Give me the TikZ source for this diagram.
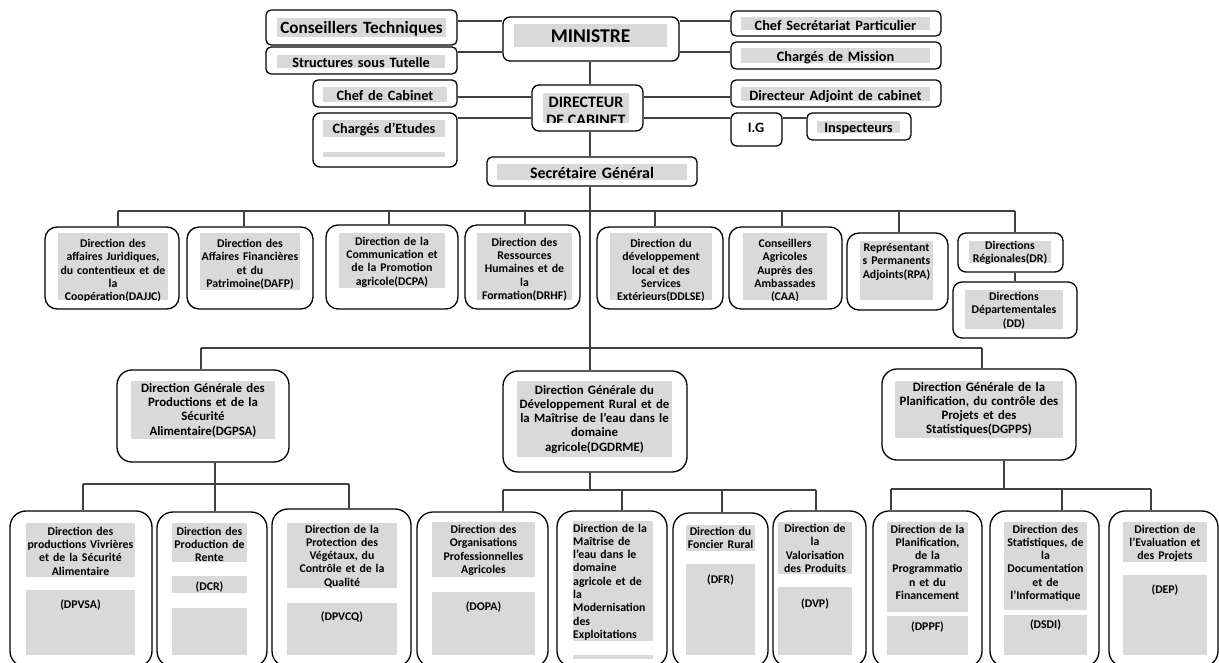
\documentclass[tikz,border=0pt]{standalone}
\usepackage{fontspec}
\setmainfont{Carlito}
\definecolor{hlc}{HTML}{D9D9D9}
\definecolor{lnc}{HTML}{404040}
\tikzset{
  obox/.style={draw=black, line width=1.3pt, rounded corners=#1, inner sep=0pt, fill=white},
  obox/.default=5pt,
  conn/.style={draw=lnc, line width=1.1pt},
}
\newcommand\fRow{\fontsize{11.8}{13.3}\selectfont\bfseries}
\newcommand\fDG{\fontsize{12.8}{14.3}\selectfont\bfseries}
\newcommand\fTop{\fontsize{14.3}{16}\selectfont\bfseries}
\newcommand\fCons{\fontsize{17.2}{20}\selectfont\bfseries}
\newcommand\fMin{\fontsize{19.5}{22}\selectfont\bfseries}
\newcommand\fSGen{\fontsize{16}{18}\selectfont\bfseries}
\newcommand\fDirc{\fontsize{16}{17}\selectfont\bfseries}
% box: name, x1, y1, x2, y2, radius
\newcommand\Bx[6]{%
  \pgfmathsetmacro\bxw{#4-#2}\pgfmathsetmacro\bxh{#5-#3}%
  \node[obox=#6pt, minimum width=\bxw pt, minimum height=\bxh pt] (#1) at ({(#2+#4)/2},{(#3+#5)/2}) {};}
% grey highlighted text block: name, x1, y1, x2, y2, font, first baseline, text
\newcommand\Tx[8]{%
  \fill[hlc] (#2,#3) rectangle (#4,#5);
  \pgfmathsetmacro\txw{#4-#2+40}%
  \begin{scope}
    \clip (#2-25,#3-6) rectangle (#4+25,#5+0.6);
    \node[inner sep=0pt, align=center, text width=\txw pt, font=#6, anchor=base] (#1) at ({(#2+#4)/2},#7) {#8};
  \end{scope}}
\newcommand\TxL[8]{%
  \fill[hlc] (#2,#3) rectangle (#4,#5);
  \pgfmathsetmacro\txw{#4-#2+40}%
  \begin{scope}
    \clip (#2-25,#3-6) rectangle (#4+25,#5+0.6);
    \node[inner sep=0pt, align=left, text width=\txw pt, font=#6, anchor=base west] (#1) at (#2,#7) {#8};
  \end{scope}}
\begin{document}
\begin{tikzpicture}[x=1pt,y=-1pt]
\useasboundingbox (0,0) rectangle (1219,663);
\clip (0,0) rectangle (1219,663);
\fill[white] (0,0) rectangle (1219,663);
% ---------- top ----------
\Bx{CT}{266}{10}{457}{45}{5}
\Tx{tCT}{277}{18}{446}{37}{\fCons}{33.5}{Conseillers Techniques}
\Bx{ST}{266}{47}{457}{74}{5}
\Tx{tST}{277}{55}{445}{68}{\fTop}{67.3}{Structures sous Tutelle}
\Bx{MIN}{503}{17}{679}{61}{7}
\Tx{tMIN}{514}{24}{667}{47}{\fMin}{43}{MINISTRE}
\Bx{CSP}{731}{11}{941}{36}{5}
\Tx{tCSP}{741}{17}{930}{30}{\fTop}{31}{Chef Secrétariat Particulier}
\Bx{CM}{731}{42}{941}{69}{5}
\Tx{tCM}{741}{48}{930}{63}{\fTop}{62}{Chargés de Mission}
\Bx{CC}{313}{80}{457}{107}{5}
\Tx{tCC}{323}{87}{447}{102}{\fTop}{100.6}{Chef de Cabinet}
\Bx{CE}{313}{113}{457}{167}{7}
\Tx{tCE}{323}{120}{445}{137}{\fTop}{134}{Chargés d’Etudes}
\fill[hlc] (323,152) rectangle (445,157);
\Bx{DIR}{532}{85}{643}{131}{7}
\fill[hlc] (543,93) rectangle (629,123);
\begin{scope}
  \clip (530,85) rectangle (645,123);
  \node[font=\fDirc, anchor=base, inner sep=0pt] (tDIR1) at (586,107.3) {DIRECTEUR};
  \node[font=\fDirc, anchor=base, inner sep=0pt] (tDIR2) at (586,126) {DE CABINET};
\end{scope}
\Bx{DAC}{731}{80}{941}{107}{5}
\Tx{tDAC}{741}{87}{930}{101}{\fTop}{100.6}{Directeur Adjoint de cabinet}
\Bx{IG}{731}{113}{782}{146}{6}
\node[font=\fTop, anchor=base, inner sep=0pt] (tIG) at (756,132.6) {I.G};
\Bx{INS}{807}{113}{911}{140}{5}
\Tx{tINS}{817}{121}{900}{133}{\fTop}{132.5}{Inspecteurs}
\Bx{SG}{487}{157}{697}{186}{5}
\Tx{tSG}{497}{164}{687}{180}{\fSGen}{179}{Secrétaire Général}
% ---------- row 1 ----------
\Bx{DAJJC}{45}{227}{179}{309}{12}
\Tx{tDAJJC}{58}{233}{168}{300}{\fRow}{247.6}{Direction des\\affaires Juridiques,\\du contentieux et de\\la\\Coopération(DAJJC)}
\Bx{DAFP}{187}{227}{313}{309}{12}
\Tx{tDAFP}{200}{233}{300}{290}{\fRow}{247.6}{Direction des\\Affaires Financières\\et du\\Patrimoine(DAFP)}
\Bx{DCPA}{326}{225}{458}{309}{12}
\Tx{tDCPA}{339}{233}{445}{288}{\fRow}{245.3}{Direction de la\\Communication et\\de la Promotion\\agricole(DCPA)}
\Bx{DRHF}{465}{225}{580}{309}{12}
\Tx{tDRHF}{477}{233}{572}{300}{\fRow}{246.3}{Direction des\\Ressources\\Humaines et de\\la\\Formation(DRHF)}
\Bx{DDLSE}{597}{227}{723}{309}{12}
\Tx{tDDLSE}{610}{233}{712}{300}{\fRow}{247.6}{Direction du\\développement\\local et des\\Services\\Extérieurs(DDLSE)}
\Bx{CAA}{729}{227}{842}{309}{12}
\Tx{tCAA}{743}{233}{827}{300}{\fRow}{247.6}{Conseillers\\Agricoles\\Auprès des\\Ambassades\\(CAA)}
\Bx{RPA}{847}{233}{948}{310}{12}
\Tx{tRPA}{860}{241}{933}{300}{\fRow}{251.6}{Représentant\\s Permanents\\Adjoints(RPA)}
\Bx{DR}{958}{233}{1063}{272}{8}
\Tx{tDR}{969}{241}{1051}{263}{\fRow}{249.5}{Directions\\Régionales(DR)}
\Bx{DD}{953}{282}{1077}{338}{9}
\Tx{tDD}{965}{290}{1063}{329}{\fRow}{300.6}{Directions\\Départementales\\(DD)}
% ---------- row 2 ----------
\Bx{DGPSA}{117}{370}{289}{462}{15}
\Tx{tDGPSA}{131}{381}{275}{439}{\fDG}{392.3}{Direction Générale des\\Productions et de la\\Sécurité\\Alimentaire(DGPSA)}
\Bx{DGDRME}{503}{371}{687}{472}{15}
\Tx{tDGDRME}{517}{381}{672}{457}{\fDG}{394}{Direction Générale du\\Développement Rural et de\\la Maîtrise de l’eau dans le\\domaine\\agricole(DGDRME)}
\Bx{DGPPS}{882}{369}{1076}{460}{15}
\Tx{tDGPPS}{895}{381}{1063}{438}{\fDG}{391}{Direction Générale de la\\Planification, du contrôle des\\Projets et des\\Statistiques(DGPPS)}
% ---------- row 3 ----------
\Bx{DPVSA}{10}{511}{152}{667}{16}
\Tx{tDPVSA}{26}{523}{135}{577}{\fRow}{535.3}{Direction des\\productions Vivrières\\et de la Sécurité\\Alimentaire}
\Tx{tDPVSAc}{26}{590}{135}{655}{\fRow}{608.6}{(DPVSA)}
\Bx{DCR}{157}{512}{267}{667}{16}
\Tx{tDCR}{172}{523}{247}{562}{\fRow}{535.3}{Direction des\\Production de\\Rente}
\Tx{tDCRc}{172}{576}{247}{593}{\fRow}{590.5}{(DCR)}
\fill[hlc] (172,608) rectangle (247,655);
\Bx{DPVCQ}{272}{509}{411}{667}{16}
\Tx{tDPVCQ}{287}{523}{397}{588}{\fRow}{533}{Direction de la\\Protection des\\Végétaux, du\\Contrôle et de la\\Qualité}
\Tx{tDPVCQc}{287}{603}{397}{655}{\fRow}{620.3}{(DPVCQ)}
\Bx{DOPA}{417}{512}{548}{667}{16}
\Tx{tDOPA}{432}{522}{535}{577}{\fRow}{533.6}{Direction des\\Organisations\\Professionnelles\\Agricoles}
\Tx{tDOPAc}{432}{592}{535}{655}{\fRow}{610.3}{(DOPA)}
\Bx{DMA}{557}{511}{667}{667}{16}
\TxL{tDMA}{573}{521}{653}{641}{\fRow}{532}{Direction de la\\Maîtrise de\\l’eau dans le\\domaine\\agricole et de\\la\\Modernisation\\des\\Exploitations}
\fill[hlc] (573,655) rectangle (653,659);
\Bx{DFR}{673}{513}{768}{667}{16}
\Tx{tDFR}{686}{525}{755}{551}{\fRow}{535.3}{Direction du\\Foncier Rural}
\Tx{tDFRc}{686}{564}{755}{655}{\fRow}{583.6}{(DFR)}
\Bx{DVP}{773}{511}{866}{667}{16}
\Tx{tDVP}{778}{522}{852}{574}{\fRow}{532.5}{Direction de\\la\\Valorisation\\des Produits}
\Tx{tDVPc}{778}{587}{852}{655}{\fRow}{607}{(DVP)}
\Bx{DPPF}{873}{511}{982}{667}{16}
\Tx{tDPPF}{887}{522}{968}{612}{\fRow}{533}{Direction de la\\Planification,\\de la\\Programmatio\\n et du\\Financement}
\Tx{tDPPFc}{887}{616}{968}{655}{\fRow}{630.3}{(DPPF)}
\Bx{DSDI}{990}{511}{1099}{667}{16}
\Tx{tDSDI}{1004}{522}{1087}{610}{\fRow}{533}{Direction des\\Statistiques, de\\la\\Documentation\\et de\\l’Informatique}
\Tx{tDSDIc}{1004}{615}{1087}{655}{\fRow}{628.6}{(DSDI)}
\Bx{DEP}{1109}{511}{1218}{667}{16}
\Tx{tDEP}{1123}{522}{1207}{562}{\fRow}{533}{Direction de\\l’Evaluation et\\des Projets}
\Tx{tDEPc}{1123}{575}{1207}{655}{\fRow}{593}{(DEP)}
% ---------- connectors ----------
\coordinate (yA) at (0,21);
\coordinate (yB) at (0,52);
\coordinate (yC) at (0,97);
\coordinate (yD) at (0,118);
\coordinate (vx) at (590,0);
\draw[conn] (CT.east |- yA) -- (MIN.west |- yA);
\draw[conn] (ST.east |- yB) -- (MIN.west |- yB);
\draw[conn] (MIN.east |- yA) -- (CSP.west |- yA);
\draw[conn] (MIN.east |- yB) -- (CM.west |- yB);
\draw[conn] (MIN.south -| vx) -- (DIR.north -| vx);
\draw[conn] (CC.east |- yC) -- (DIR.west |- yC);
\draw[conn] (CE.east |- yD) -- (DIR.west |- yD);
\draw[conn] (DIR.east |- yC) -- (DAC.west |- yC);
\draw[conn] (DIR.east |- yD) -- (IG.west |- yD);
\draw[conn] (IG.east |- yD) -- (INS.west |- yD);
\draw[conn] (DIR.south -| vx) -- (SG.north -| vx);
\draw[conn] (SG.south -| vx) -- (DGDRME.north -| vx);
% bus 1
\foreach \n/\x in {DAJJC/118,DAFP/244,DCPA/389,DRHF/525,DDLSE/655,CAA/782,RPA/899,DR/1015}{
  \coordinate (k\n) at (\x,211);
  \draw[conn] (k\n) -- (k\n |- \n.north);
}
\draw[conn] (kDAJJC) -- (kDR);
\draw[conn] (kDR |- DR.south) -- (kDR |- DD.north);
% bus 2
\coordinate (m1) at (201,348);
\coordinate (m3) at (982,348);
\draw[conn] (m1) -- (m3);
\draw[conn] (m1) -- (m1 |- DGPSA.north);
\draw[conn] (m3) -- (m3 |- DGPPS.north);
% sub A
\coordinate (a0) at (215,484);
\draw[conn] (a0 |- DGPSA.south) -- (a0);
\foreach \n/\x in {DPVSA/83,DCR/215,DPVCQ/349}{
  \coordinate (s\n) at (\x,484);
  \draw[conn] (s\n) -- (s\n |- \n.north);
}
\draw[conn] (sDPVSA) -- (sDPVCQ);
% sub B
\coordinate (b0) at (590,490);
\draw[conn] (b0 |- DGDRME.south) -- (b0);
\foreach \n/\x in {DOPA/503,DMA/622,DFR/722,DVP/816}{
  \coordinate (s\n) at (\x,490);
  \draw[conn] (s\n) -- (s\n |- \n.north);
}
\draw[conn] (sDOPA) -- (sDVP);
% sub C
\coordinate (c0) at (1004,489);
\draw[conn] (c0 |- DGPPS.south) -- (c0);
\foreach \n/\x in {DPPF/891,DSDI/1062,DEP/1151}{
  \coordinate (s\n) at (\x,489);
  \draw[conn] (s\n) -- (s\n |- \n.north);
}
\draw[conn] (sDPPF) -- (sDEP);
\end{tikzpicture}
\end{document}
